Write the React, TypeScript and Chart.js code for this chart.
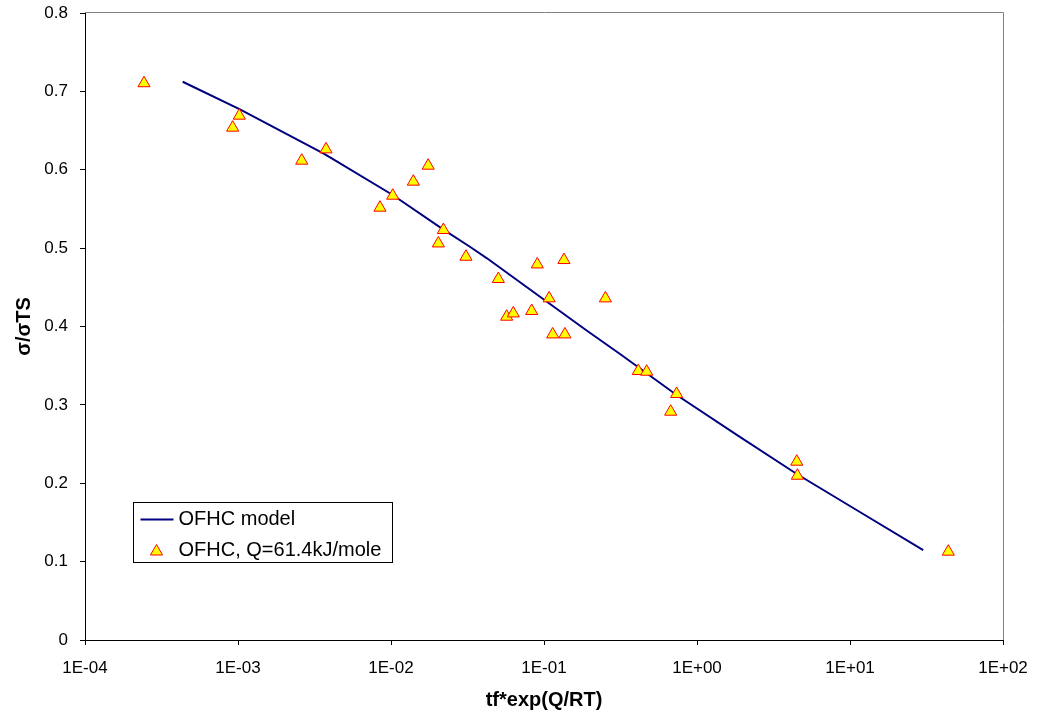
import React, { useEffect, useRef } from "react";
import { Chart, registerables } from "chart.js";

Chart.register(...registerables);

// Model curve (OFHC model)
const modelX = [4.35e-4, 1.03e-3, 3.61e-3, 4.1e-3, 1.026e-2, 2.19e-2, 3.28e-2, 4.24e-2, 9.42e-2, 0.19, 0.314, 0.736, 1.82, 4.49, 11.6, 30.1];
const modelY = [0.7123, 0.6771, 0.621, 0.6146, 0.5678, 0.524, 0.5018, 0.487, 0.438, 0.3949, 0.3649, 0.3126, 0.2618, 0.2118, 0.1633, 0.1148];

// Measured points (OFHC, Q=61.4kJ/mole)
const dataX = [
  2.43e-4, 9.23e-4, 1.02e-3, 2.61e-3, 3.76e-3, 8.47e-3, 1.026e-2, 1.4e-2, 1.75e-2, 2.2e-2,
  2.04e-2, 3.09e-2, 5.03e-2, 5.7e-2, 6.3e-2, 8.31e-2, 9.04e-2, 0.108, 0.114, 0.137,
  0.135, 0.252, 0.413, 0.469, 0.736, 0.673, 4.49, 4.53, 43.9,
];
const dataY = [
  0.7104, 0.6537, 0.669, 0.6116, 0.626, 0.5516, 0.5669, 0.5848, 0.6052, 0.5231,
  0.506, 0.489, 0.4606, 0.4125, 0.4167, 0.4198, 0.4792, 0.4359, 0.3899, 0.3899,
  0.4848, 0.4359, 0.3432, 0.3423, 0.3139, 0.2913, 0.2275, 0.2096, 0.1127,
];

const xTickValues = [1e-4, 1e-3, 1e-2, 1e-1, 1, 10, 100];
const xTickLabels = ["1E-04", "1E-03", "1E-02", "1E-01", "1E+00", "1E+01", "1E+02"];
const yTickValues = [0, 0.1, 0.2, 0.3, 0.4, 0.5, 0.6, 0.7, 0.8];
const yTickLabels = ["0", "0.1", "0.2", "0.3", "0.4", "0.5", "0.6", "0.7", "0.8"];

const seriesNames = ["OFHC model", "OFHC, Q=61.4kJ/mole"];
const xTitle = "tf*exp(Q/RT)";
const yTitle = "σ/σTS";

const FONT = "'Liberation Sans', Arial, Helvetica, sans-serif";
const LINE_COLOR = "#000080";
const POINT_FILL = "#FFFF00";
const POINT_BORDER = "#FF0000";

function clearPadding(s: any) {
  s.paddingTop = 0;
  s.paddingBottom = 0;
  s.paddingLeft = 0;
  s.paddingRight = 0;
}

export default function App() {
  const ref = useRef<HTMLCanvasElement>(null);

  useEffect(() => {
    if (!ref.current) return;

    const framePlugin = {
      id: "frame",
      afterDraw(chart: any) {
        const { ctx, chartArea } = chart;
        ctx.save();
        ctx.strokeStyle = "#808080";
        ctx.lineWidth = 1;
        ctx.beginPath();
        ctx.moveTo(chartArea.left, Math.round(chartArea.top) - 0.5);
        ctx.lineTo(Math.round(chartArea.right) + 0.5, Math.round(chartArea.top) - 0.5);
        ctx.lineTo(Math.round(chartArea.right) + 0.5, chartArea.bottom);
        ctx.stroke();
        ctx.restore();
      },
    };

    const legendPlugin = {
      id: "boxLegend",
      afterDraw(chart: any) {
        const { ctx, chartArea } = chart;
        const bx = Math.round(chartArea.left + 48) + 0.5;
        const by = Math.round(chartArea.top + 489) + 0.5;
        const bw = 259;
        const bh = 60;
        ctx.save();
        ctx.fillStyle = "#FFFFFF";
        ctx.fillRect(bx, by, bw, bh);
        ctx.strokeStyle = "#000000";
        ctx.lineWidth = 1;
        ctx.strokeRect(bx, by, bw, bh);

        // line sample
        ctx.strokeStyle = LINE_COLOR;
        ctx.lineWidth = 2;
        ctx.beginPath();
        ctx.moveTo(bx + 7, by + 17);
        ctx.lineTo(bx + 40, by + 17);
        ctx.stroke();

        // triangle sample
        const cx = bx + 23;
        const cy = by + 49;
        const r = 7;
        ctx.beginPath();
        for (let k = 0; k < 3; k++) {
          const a = (k * 2 * Math.PI) / 3;
          const px = cx + Math.sin(a) * r;
          const py = cy - Math.cos(a) * r;
          if (k === 0) ctx.moveTo(px, py);
          else ctx.lineTo(px, py);
        }
        ctx.closePath();
        ctx.fillStyle = POINT_FILL;
        ctx.fill();
        ctx.strokeStyle = POINT_BORDER;
        ctx.lineWidth = 1;
        ctx.stroke();

        ctx.fillStyle = "#000000";
        ctx.font = `20px ${FONT}`;
        ctx.textBaseline = "middle";
        ctx.textAlign = "left";
        ctx.fillText(seriesNames[0], bx + 45, by + 17);
        ctx.fillText(seriesNames[1], bx + 45, by + 48);
        ctx.restore();
      },
    };

    const chart = new Chart(ref.current, {
      type: "scatter",
      data: {
        datasets: [
          {
            label: seriesNames[1],
            data: dataX.map((x, i) => ({ x, y: dataY[i] })),
            pointStyle: "triangle",
            pointRadius: 7,
            pointHoverRadius: 7,
            backgroundColor: POINT_FILL,
            borderColor: POINT_BORDER,
            borderWidth: 1,
            showLine: false,
            order: 0,
          },
          {
            type: "line",
            label: seriesNames[0],
            data: modelX.map((x, i) => ({ x, y: modelY[i] })),
            borderColor: LINE_COLOR,
            backgroundColor: LINE_COLOR,
            borderWidth: 2,
            pointRadius: 0,
            pointHoverRadius: 0,
            showLine: true,
            fill: false,
            tension: 0,
            order: 1,
          } as any,
        ],
      },
      options: {
        responsive: false,
        animation: false,
        events: [],
        layout: { padding: { top: 13, right: 35, left: 0, bottom: 0 } },
        plugins: {
          legend: { display: false },
          tooltip: { enabled: false },
        },
        scales: {
          x: {
            type: "logarithmic",
            position: "bottom",
            min: 1e-4,
            max: 100,
            afterBuildTicks: (s: any) => {
              s.ticks = xTickValues.map((v) => ({ value: v }));
            },
            afterFit: (s: any) => {
              s.height = 73;
              clearPadding(s);
            },
            ticks: {
              callback: (_v: any, i: number) => xTickLabels[i],
              font: { family: FONT, size: 17 },
              color: "#000000",
              padding: 13,
              autoSkip: false,
              maxRotation: 0,
              minRotation: 0,
            },
            grid: {
              drawOnChartArea: false,
              drawTicks: true,
              tickLength: 5,
              color: "#000000",
            },
            border: { display: true, color: "#000000", width: 1 },
            title: {
              display: true,
              text: xTitle,
              font: { family: FONT, size: 20, weight: "bold" },
              color: "#000000",
              padding: { top: 0, bottom: 1 },
            },
          },
          y: {
            type: "linear",
            min: 0,
            max: 0.8,
            afterBuildTicks: (s: any) => {
              s.ticks = yTickValues.map((v) => ({ value: v }));
            },
            afterFit: (s: any) => {
              s.width = 85;
              clearPadding(s);
            },
            ticks: {
              callback: (_v: any, i: number) => yTickLabels[i],
              font: { family: FONT, size: 17 },
              color: "#000000",
              padding: 12,
            },
            grid: {
              drawOnChartArea: false,
              drawTicks: true,
              tickLength: 5,
              color: "#000000",
            },
            border: { display: true, color: "#000000", width: 1 },
            title: {
              display: true,
              text: yTitle,
              font: { family: FONT, size: 20, weight: "bold" },
              color: "#000000",
              padding: { top: 12, bottom: 0 },
            },
          },
        },
      } as any,
      plugins: [framePlugin, legendPlugin],
    });

    return () => chart.destroy();
  }, []);

  return (
    <div style={{ position: "absolute", left: 0, top: 0, width: 1038, height: 713, background: "#FFFFFF" }}>
      <canvas ref={ref} width={1038} height={713} style={{ display: "block" }} />
    </div>
  );
}
